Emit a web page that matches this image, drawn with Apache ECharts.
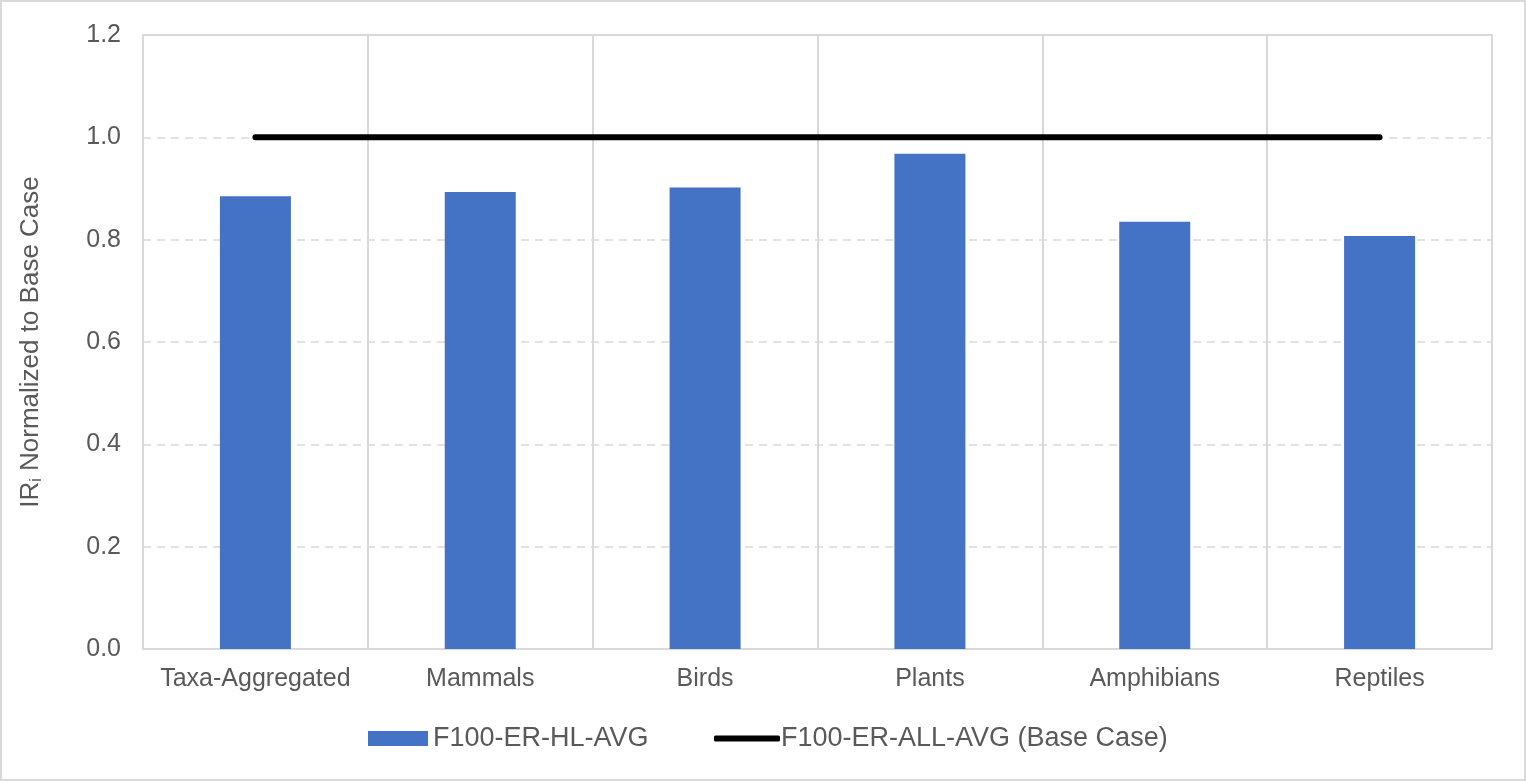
<!DOCTYPE html>
<html><head><meta charset="utf-8">
<script src="https://cdn.jsdelivr.net/npm/echarts@6/dist/echarts.min.js"></script>
<style>html,body{margin:0;padding:0;background:#fff}#c{width:1526px;height:781px;box-sizing:border-box;border:2px solid #d9d9d9}</style>
</head><body><div id="c"></div>
<script>
const categories = ['Taxa-Aggregated','Mammals','Birds','Plants','Amphibians','Reptiles'];
const hlAvg = [0.885, 0.893, 0.902, 0.968, 0.835, 0.807];
const baseCase = [1.0, 1.0, 1.0, 1.0, 1.0, 1.0];
const yTicks = [0, 0.2, 0.4, 0.6, 0.8, 1.0, 1.2];

const chart = echarts.init(document.getElementById('c'), null, {renderer:'canvas'});
const font = 'Liberation Sans, Arial, sans-serif';
chart.setOption({
  animation:false,
  textStyle:{fontFamily:font},
  grid:{left:141,right:32,top:33,bottom:130,show:true,borderColor:'#d9d9d9',borderWidth:2},
  legend:[{
    data:['F100-ER-HL-AVG'], left:361, top:718, itemWidth:60, itemHeight:15, icon:'rect',
    textStyle:{fontSize:27,color:'#595959',fontFamily:font}
  },{
    data:['F100-ER-ALL-AVG (Base Case)'], left:707, top:718, itemWidth:66, itemHeight:6, icon:'roundRect',
    textStyle:{fontSize:27,color:'#595959',fontFamily:font,padding:[0,0,0,-4]}
  }],
  xAxis:{
    type:'category', data:categories, boundaryGap:true,
    axisLine:{show:true,lineStyle:{color:'#d9d9d9',width:2}},
    axisTick:{show:false},
    splitLine:{show:true,interval:0,lineStyle:{color:'#d9d9d9',width:2}},
    axisLabel:{interval:0,fontSize:25,color:'#595959',margin:18,fontFamily:font}
  },
  yAxis:{
    type:'value', min:0, max:1.2, interval:0.2,
    name:'{a|IR}{s|i}{a| Normalized to Base Case}', nameLocation:'middle', nameGap:98, nameRotate:90,
    nameTextStyle:{rich:{a:{fontSize:26,color:'#595959',fontFamily:font},s:{fontSize:16,color:'#595959',fontFamily:font,padding:[12,0,0,0]}}},
    axisLine:{show:false}, axisTick:{show:false},
    splitLine:{show:true,lineStyle:{color:'#d9d9d9',type:[8,6],width:1.5}},
    axisLabel:{fontSize:25,color:'#595959',margin:22,fontFamily:font,formatter:v=>v.toFixed(1)}
  },
  series:[{
    name:'F100-ER-HL-AVG', type:'bar', data:hlAvg, barWidth:71,
    itemStyle:{color:'#4472C4'}
  },{
    name:'F100-ER-ALL-AVG (Base Case)', type:'line', data:baseCase, showSymbol:false, symbol:'none',
    lineStyle:{color:'#000',width:6,cap:'round'}, itemStyle:{color:'#000'}, z:5
  }]
});
</script></body></html>
